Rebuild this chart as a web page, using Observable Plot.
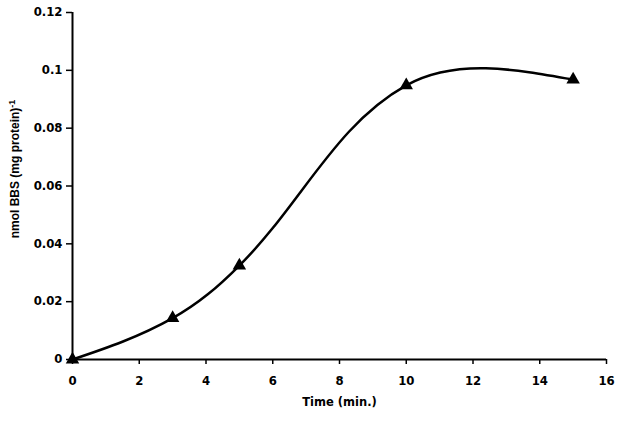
<!DOCTYPE html>
<html><head><meta charset="utf-8">
<script src="https://cdn.jsdelivr.net/npm/d3@7"></script>
<script src="https://cdn.jsdelivr.net/npm/@observablehq/plot@0.6"></script>
<style>body{margin:0;background:#fff}</style>
</head><body><div id="chart"></div>
<script>
const time = [0, 3, 5, 10, 15];
const bbs = [0, 0.0143, 0.0325, 0.0948, 0.0968];
const xTicks = [0, 2, 4, 6, 8, 10, 12, 14, 16];
const yTicks = [0, 0.02, 0.04, 0.06, 0.08, 0.1, 0.12];
const xLabel = "Time (min.)";
const yLabel = "nmol BBS (mg protein)";
const yLabelSup = "-1";

const data = time.map((t, i) => ({t, v: bbs[i]}));
const tickFont = "DejaVu Sans, Verdana, sans-serif";
const labelFont = "Liberation Sans, Arial, sans-serif";

// Spreadsheet-style smoothed line: Bezier segments whose control points
// are scaled by the neighbouring segment lengths.
function SmoothCurve(ctx) { this._ctx = ctx; }
SmoothCurve.prototype = {
  areaStart() {}, areaEnd() {},
  lineStart() { this._p = []; },
  point(x, y) { this._p.push([+x, +y]); },
  lineEnd() {
    const p = this._p, n = p.length, c = this._ctx;
    if (!n) return;
    c.moveTo(p[0][0], p[0][1]);
    if (n < 3) { for (let i = 1; i < n; i++) c.lineTo(p[i][0], p[i][1]); return; }
    const d = (a, b) => Math.hypot(b[0] - a[0], b[1] - a[1]);
    const cin = [], cout = [];
    const k = 0.36;
    for (let i = 1; i < n - 1; i++) {
      const T = [p[i + 1][0] - p[i - 1][0], p[i + 1][1] - p[i - 1][1]];
      const dp = d(p[i - 1], p[i]), dn = d(p[i], p[i + 1]), s = dp + dn;
      cin[i] = [p[i][0] - T[0] * dp / s * k, p[i][1] - T[1] * dp / s * k];
      cout[i] = [p[i][0] + T[0] * dn / s * k, p[i][1] + T[1] * dn / s * k];
    }
    cout[0] = [p[0][0] + (cin[1][0] - p[0][0]) / 2, p[0][1] + (cin[1][1] - p[0][1]) / 2];
    const L = n - 1;
    cin[L] = [p[L][0] + (cout[L - 1][0] - p[L][0]) / 2, p[L][1] + (cout[L - 1][1] - p[L][1]) / 2];
    for (let i = 0; i < L; i++) {
      c.bezierCurveTo(cout[i][0], cout[i][1], cin[i + 1][0], cin[i + 1][1], p[i + 1][0], p[i + 1][1]);
    }
  }
};
const smoothCurve = ctx => new SmoothCurve(ctx);

const chart = Plot.plot({
  width: 626, height: 422,
  marginLeft: 72, marginRight: 20, marginTop: 12, marginBottom: 63,
  style: {fontFamily: tickFont, fontSize: "11.7px", fontWeight: "bold", color: "#000", background: "#fff"},
  x: {domain: [0, 16], ticks: xTicks, label: null},
  y: {domain: [0, 0.12], ticks: yTicks, label: null, tickFormat: d => String(+d.toFixed(2))},
  marks: [
    Plot.axisX({ticks: xTicks, tickSize: 5, tickPadding: 12, stroke: "#000", strokeWidth: 1.5, label: null, fontSize: 11.7, fontWeight: "bold", fontFamily: tickFont}),
    Plot.axisY({ticks: yTicks, tickSize: 6, tickPadding: 4, stroke: "#000", strokeWidth: 1.5, label: null, tickFormat: d => String(+d.toFixed(2)), fontSize: 11.7, fontWeight: "bold", fontFamily: tickFont}),
    Plot.ruleX([0], {stroke: "#000", strokeWidth: 2}),
    Plot.ruleY([0], {stroke: "#000", strokeWidth: 2}),
    Plot.line(data, {x: "t", y: "v", curve: smoothCurve, stroke: "#000", strokeWidth: 2.5}),
    Plot.dot(data, {x: "t", y: "v", symbol: "triangle", r: 5, fill: "#000", stroke: "none"}),
    Plot.text([xLabel], {frameAnchor: "bottom", dy: 46, fontSize: 11.5, fontWeight: "bold", fill: "#000", fontFamily: tickFont}),
    Plot.text([yLabel], {frameAnchor: "left", textAnchor: "middle", dx: -57, dy: -17, rotate: -90, fontSize: 12, fontWeight: "bold", fill: "#000", fontFamily: labelFont, className: "ylab"})
  ]
});
document.getElementById("chart").appendChild(chart);
// add superscript to y label
d3.select(chart).selectAll(".ylab text").each(function() {
  d3.select(this).append("tspan").attr("dy", "-0.5em").attr("font-size", "9").text(yLabelSup);
});
</script></body></html>
